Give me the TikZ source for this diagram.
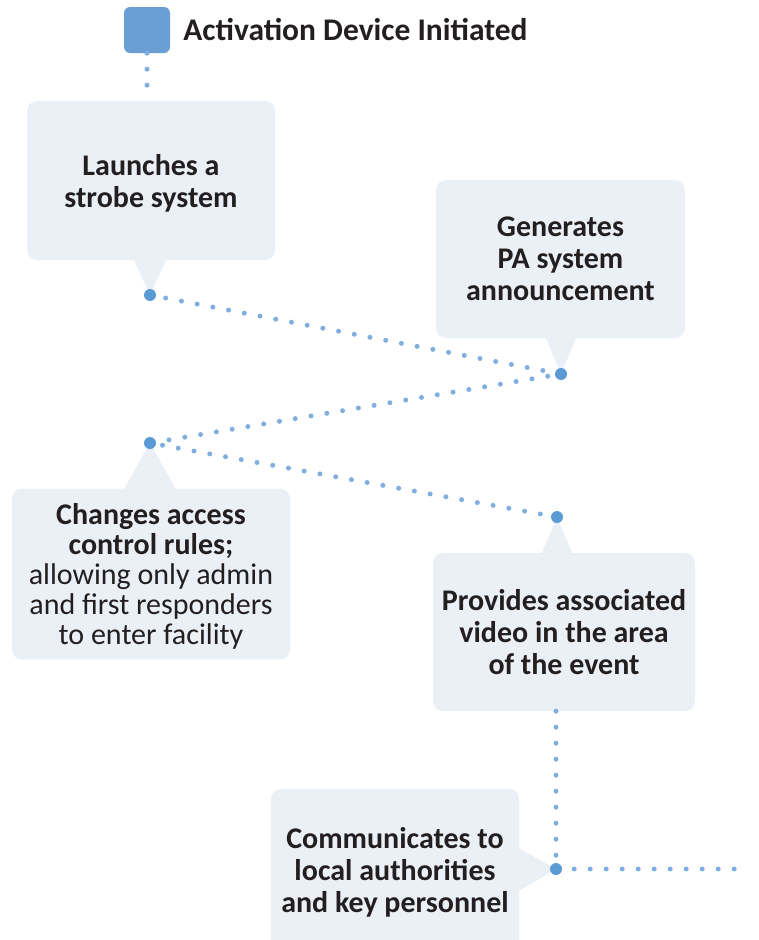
\documentclass[tikz,border=0pt]{standalone}
\usepackage{fontspec}
\setmainfont{Carlito}
\usetikzlibrary{positioning}

\definecolor{boxfill}{HTML}{EBF0F7}
\definecolor{hubblue}{HTML}{5B9BD5}
\definecolor{trailblue}{HTML}{7FAEDF}
\definecolor{squareblue}{HTML}{6A9FD6}
\definecolor{inkdark}{HTML}{231F20}

\begin{document}
\begin{tikzpicture}[x=1pt, y=-1pt,
    box/.style={fill=boxfill, rounded corners=10pt, align=center, text=inkdark,
        inner sep=0pt, text depth=0pt, font=\fontsize{30}{32}\selectfont\bfseries},
    hub/.style={circle, fill=hubblue, minimum size=12pt, inner sep=0pt},
    trail/.style={trailblue, line width=5pt, line cap=round, dash pattern=on 0pt off 16pt}]
    \useasboundingbox (0,0) rectangle (758,940);
    \clip (0,0) rectangle (758,940);

    % Start marker and title
    \node[fill=squareblue, rounded corners=6pt, minimum size=46pt, inner sep=0pt] (start) at (147,30) {};
    \node[right=13pt of start, inner sep=0pt, text=inkdark, font=\fontsize{31.5}{32}\selectfont\bfseries] (title) {Activation Device Initiated};

    % Callout boxes
    \node[box, minimum width=248pt, minimum height=159pt] (strobe) at (151,180.5) {Launches a\\strobe system};
    \node[box, minimum width=249pt, minimum height=158pt] (pa) at (560.5,259) {Generates\\PA system\\announcement};
    \node[box, minimum width=278pt, minimum height=171pt, font=\fontsize{30}{30}\selectfont] (access) at (151,574)
        {\textbf{Changes access}\\\textbf{control rules;}\\allowing only admin\\and first responders\\to enter facility};
    \node[box, minimum width=262pt, minimum height=158pt] (video) at (564,632) {Provides associated\\video in the area\\of the event};
    \node[box, minimum width=248pt, minimum height=161pt] (notify) at (395,869.5) {Communicates to\\local authorities\\and key personnel};

    % Hub positions along the trail
    \coordinate (h1) at (150,295);
    \coordinate (h2) at (561,374);
    \coordinate (h3) at (150,443);
    \coordinate (h4) at (557,517);
    \coordinate (h5) at (556,869);
    \coordinate (tail) at (745,869);

    % Callout pointers
    \fill[boxfill] (h1) -- ++(-17,-37) -- ++(34,0) -- cycle;
    \fill[boxfill] (h2) -- ++(-16,-38) -- ++(32,0) -- cycle;
    \fill[boxfill] (h3) -- ++(-26,46) -- ++(52,0) -- cycle;
    \fill[boxfill] (h4) -- ++(-16,38) -- ++(32,0) -- cycle;
    \fill[boxfill] (h5) -- ++(-39,-22) -- ++(0,45) -- cycle;

    % Dotted trail
    \draw[trail] (start.south) -- (start.south |- strobe.north);
    \draw[trail] (h1) -- (h2) -- (h3) -- (h4);
    \draw[trail] (video.south -| h5) -- (h5) -- (tail);

    % Hubs
    \foreach \i in {1,...,5} {
        \node[hub] (hub\i) at (h\i) {};
    }
\end{tikzpicture}
\end{document}
